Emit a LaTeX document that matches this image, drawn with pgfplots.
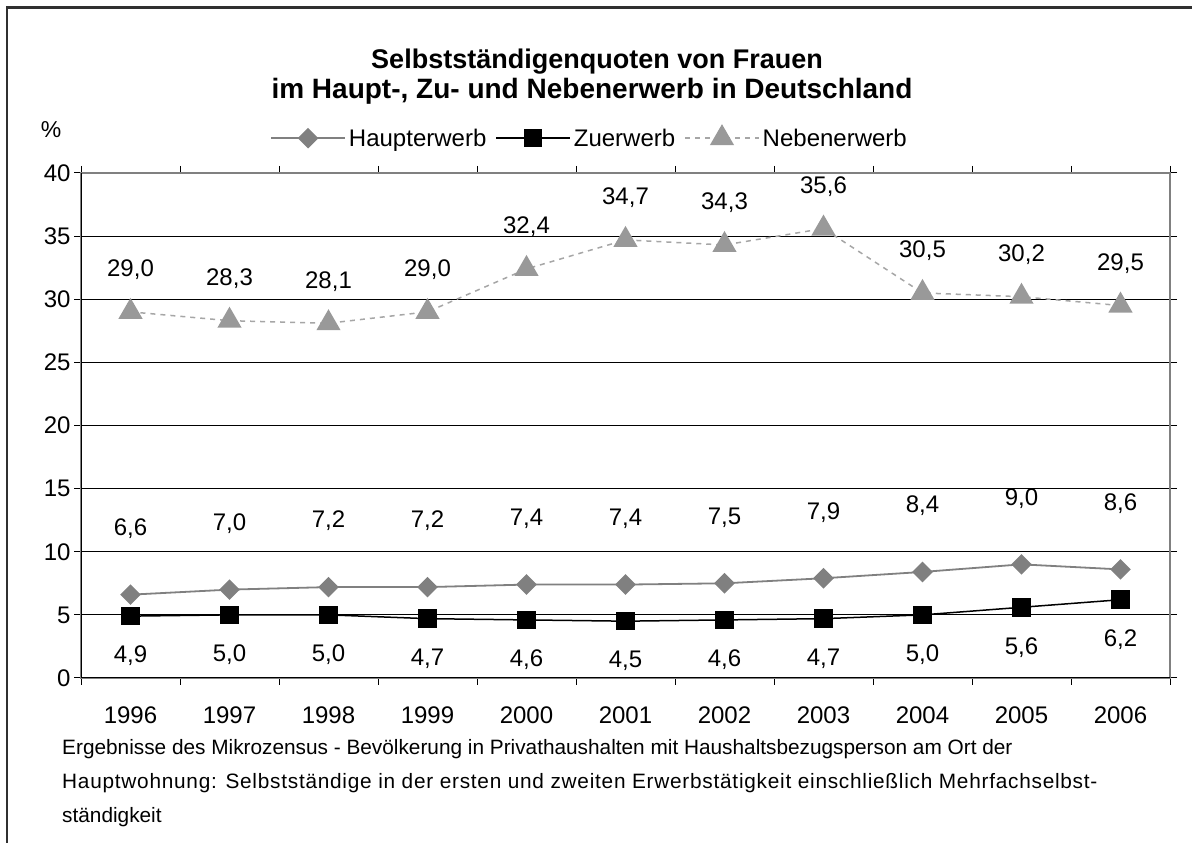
\documentclass[border=0pt]{standalone}
\usepackage{fontspec}
\setmainfont{Liberation Sans}
\usepackage{pgfplots}
\usepackage{pgfplotstable}
\pgfplotsset{compat=1.18}
\definecolor{hgray}{HTML}{808080}
\definecolor{ngray}{HTML}{999999}
\definecolor{nline}{HTML}{A6A6A6}
\definecolor{framec}{HTML}{303030}

\pgfplotstableread{
x haupt zu neben
0 6.6 4.9 29.0
1 7.0 5.0 28.3
2 7.2 5.0 28.1
3 7.2 4.7 29.0
4 7.4 4.6 32.4
5 7.4 4.5 34.7
6 7.5 4.6 34.3
7 7.9 4.7 35.6
8 8.4 5.0 30.5
9 9.0 5.6 30.2
10 8.6 6.2 29.5
}\data

\begin{document}
\begin{tikzpicture}[x=1pt,y=1pt]
\useasboundingbox (0,0) rectangle (1192,843);
\draw[framec, line width=2.2pt] (7,0) -- (7,835.5) -- (1192,835.5);
\node[anchor=base, font=\bfseries\fontsize{27}{32}\selectfont] at (597,774) {Selbstständigenquoten von Frauen};
\node[anchor=base, font=\bfseries\fontsize{28}{32}\selectfont] at (592,744) {im Haupt-, Zu- und Nebenerwerb in Deutschland};
\node[anchor=base, font=\fontsize{23}{27}\selectfont] at (51,705) {\%};
\begin{axis}[
  at={(130.5pt,165pt)}, anchor=origin,
  scale only axis, width=1089pt, height=505pt,
  xmin=-0.5, xmax=10.5, ymin=0, ymax=40,
  ytick={0,5,...,40},
  xtick={-0.5,0.5,...,10.5}, xticklabels={},
  extra x ticks={0,1,...,10},
  extra x tick labels={1996,1997,1998,1999,2000,2001,2002,2003,2004,2005,2006},
  extra x tick style={tick style={draw=none}},
  xticklabel style={yshift=-18pt},
  tick align=outside, major tick length=7pt,
  tick style={black, line width=1pt},
  ymajorgrids, grid style={black, line width=1pt},
  axis line style={gray, line width=1.5pt},
  tick label style={font=\fontsize{24}{28}\selectfont},
  /pgf/number format/assume math mode=true,
  legend style={at={(0.4674,1.069)}, anchor=center, draw=none, fill=none,
    font=\fontsize{24}{28}\selectfont, legend columns=3,
    /tikz/every even column/.append style={column sep=6pt},
    /tikz/every odd column/.append style={column sep=0pt},
    nodes={inner sep=3pt}},
  legend image code/.code={\draw[mark repeat=2,mark phase=2] plot coordinates {(0pt,0pt) (37pt,0pt) (74pt,0pt)};},
  nodes near coords={\pgfmathprintnumber[fixed,fixed zerofill,precision=1,use comma]{\pgfplotspointmeta}},
]
\draw[black, line width=1.5pt] (rel axis cs:0,1) -- (rel axis cs:0,0) -- (rel axis cs:1,0);
\addplot[hgray, line width=1.8pt, mark=square*, mark size=6.4pt,
  mark options={rotate=45, fill=hgray, draw=hgray, solid},
  every node near coord/.append style={text=black, anchor=center, yshift=66pt, font=\fontsize{24}{28}\selectfont}]
  table[x=x,y=haupt]{\data};
\addlegendentry{Haupterwerb}
\addplot[black, line width=1.5pt, mark=square*, mark size=8.5pt,
  mark options={fill=black, draw=black, solid},
  every node near coord/.append style={text=black, anchor=center, yshift=-40pt, font=\fontsize{24}{28}\selectfont}]
  table[x=x,y=zu]{\data};
\addlegendentry{Zuerwerb}
\addplot[nline, line width=1.5pt, dash pattern=on 5pt off 5pt, mark=triangle*, mark size=12.5pt,
  mark options={fill=ngray, draw=ngray, solid},
  every node near coord/.append style={text=black, anchor=center, yshift=42pt, font=\fontsize{24}{28}\selectfont}]
  table[x=x,y=neben]{\data};
\addlegendentry{Nebenerwerb}
\end{axis}
\begin{scope}[font=\fontsize{20.8}{25}\selectfont]
\node[anchor=base west, inner sep=0pt] at (62,88) {Ergebnisse des Mikrozensus - Bevölkerung in Privathaushalten mit Haushaltsbezugsperson am Ort der};
\node[anchor=base west, inner sep=0pt] at (62,54) {\addfontfeature{LetterSpace=3.6}Hauptwohnung: Selbstständige in der ersten und zweiten Erwerbstätigkeit einschließlich Mehrfachselbst-};
\node[anchor=base west, inner sep=0pt] at (62,20) {ständigkeit};
\end{scope}
\end{tikzpicture}
\end{document}
